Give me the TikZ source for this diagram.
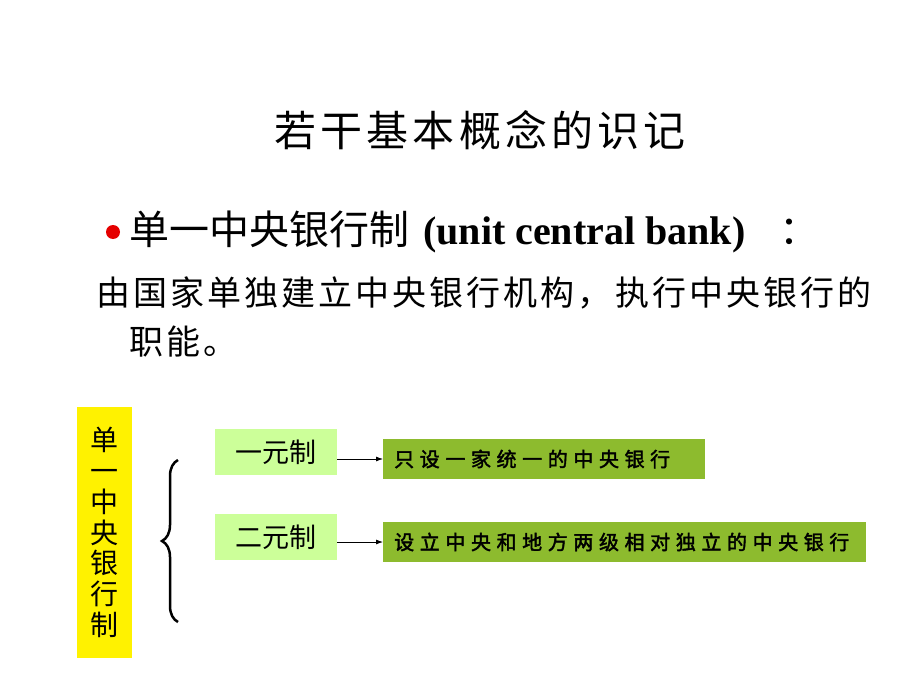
\documentclass[tikz,border=0pt]{standalone}
\usepackage{fontspec}
\setmainfont{Liberation Serif}
\newfontfamily\cjk{Noto Sans CJK SC}
\newfontfamily\cjktitle[LetterSpace=10]{Noto Sans CJK SC}
\newfontfamily\cjkbody[LetterSpace=9]{Noto Sans CJK SC}
\newfontfamily\cjkbox[LetterSpace=28,FakeBold=2]{Noto Sans CJK SC}
\usepackage{xcolor}
\usetikzlibrary{decorations.pathreplacing,arrows.meta}
\definecolor{lightgreen}{HTML}{CCFF99}
\definecolor{darkgreen}{HTML}{8DBB2E}

\begin{document}
\begin{tikzpicture}[x=1pt,y=-1pt,>={Latex[length=7pt,width=5pt]}]
   \useasboundingbox (0,0) rectangle (920,690);
   \tikzset{kind/.style={fill=lightgreen,minimum width=122pt,minimum height=46pt,inner sep=0pt,font=\cjk\fontsize{27}{27}\selectfont},
            result/.style={fill=darkgreen,minimum height=40pt,inner xsep=11pt,inner ysep=0pt,anchor=west,align=left,font=\cjkbox\fontsize{20}{20}\selectfont}}
   % heading
   \node (title) at (480,130) {\cjktitle\fontsize{42}{42}\selectfont 若干基本概念的识记};
   \path[fill=red!90!black] (113,232) circle (7pt);
   \node[anchor=west,inner sep=0pt] (item) at (129,232) {\cjk\fontsize{40}{40}\selectfont 单一中央银行制\hspace{14pt}{\rmfamily\fontsize{40}{40}\selectfont\bfseries(unit central bank)}\hspace{34pt}：};
   \node[anchor=west,inner sep=0pt] (line1) at (96,293) {\cjkbody\fontsize{34}{34}\selectfont 由国家单独建立中央银行机构，执行中央银行的};
   \node[anchor=west,inner sep=0pt] (line2) at (129,342) {\cjkbody\fontsize{34}{34}\selectfont 职能。};
   % scheme
   \node[fill=yellow,minimum width=55pt,minimum height=251pt,inner sep=0pt,align=center,
         font=\cjk\fontsize{28}{30.8}\selectfont] (name) at (104.5,532.5) {单\\一\\中\\央\\银\\行\\制};
   \coordinate (btop) at (178,460);
   \coordinate (bbot) at (178,622);
   \draw[line width=2.5pt,decorate,decoration={brace,amplitude=16pt}] (bbot) -- (btop);
   \node[kind] (one) at (276,452) {一元制};
   \node[kind] (two) at (276,537) {二元制};
   \node[result,text width=300pt] (oneR) at (383,459) {只设一家统一的中央银行};
   \node[result,text width=461pt] (twoR) at (383,542) {设立中央和地方两级相对独立的中央银行};
   \draw[->,line width=0.8pt] (one.east |- oneR) -- (oneR);
   \draw[->,line width=0.8pt] (two.east |- twoR) -- (twoR);
\end{tikzpicture}
\end{document}
